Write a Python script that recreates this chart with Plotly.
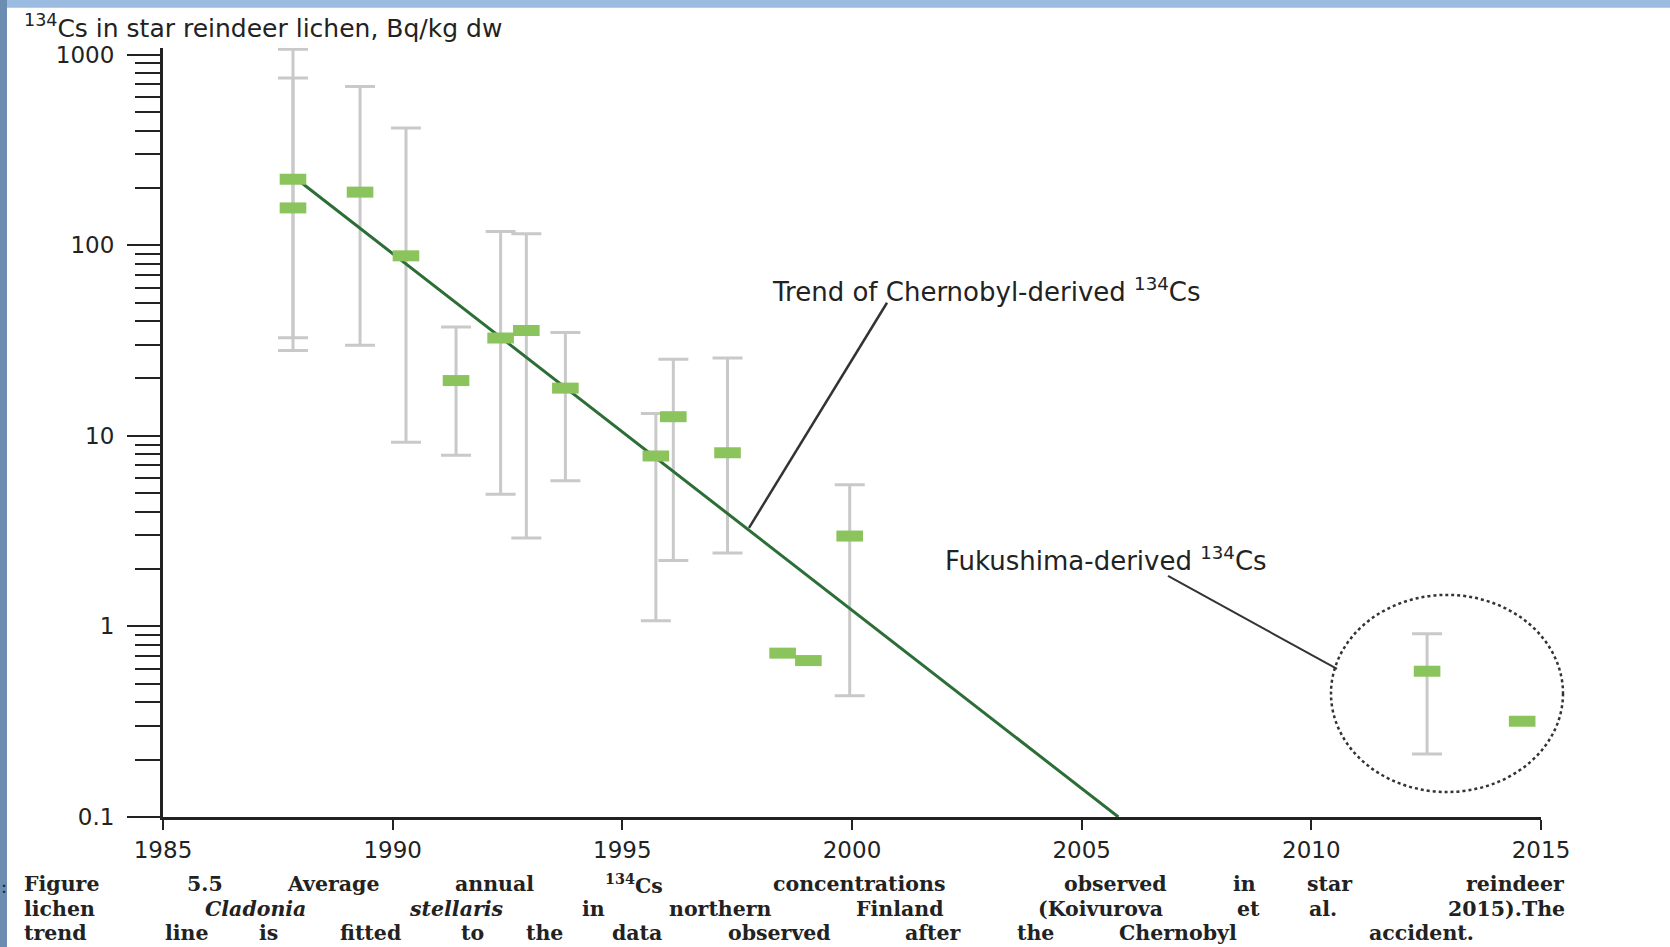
import plotly.graph_objects as go

# ---------------- data ----------------
years = [1987.83, 1987.83, 1989.29, 1990.29, 1991.38, 1992.35, 1992.91, 1993.76,
         1995.73, 1996.11, 1997.29, 1998.49, 1999.05, 1999.95, 2012.52, 2014.59]
values = [222, 157, 190, 88, 19.5, 32.6, 35.7, 17.8,
          7.84, 12.6, 8.15, 0.724, 0.662, 2.98, 0.582, 0.318]
upper = [1067, 754, 680, 412, 37.2, 118, 115, 34.8,
         13.1, 25.2, 25.6, None, None, 5.53, 0.914, None]
lower = [28, 32.7, 29.9, 9.25, 7.9, 4.93, 2.91, 5.82,
         1.07, 2.22, 2.43, None, None, 0.433, 0.214, None]

trend_years = [1988.0, 2005.8]
trend_values = [214, 0.1]

x_ticks = [1985, 1990, 1995, 2000, 2005, 2010, 2015]
y_ticks = [0.1, 1, 10, 100, 1000]
y_ticktext = ["0.1", "1", "10", "100", "1000"]

y_title = "<sup>134</sup>Cs in star reindeer lichen, Bq/kg dw"
trend_label = "Trend of Chernobyl-derived <sup>134</sup>Cs"
fuku_label = "Fukushima-derived <sup>134</sup>Cs"
caption_lines = [
    [("Figure", 0), ("5.5", 0), ("Average", 0), ("annual", 0), ("<sup>134</sup>Cs", 0),
     ("concentrations", 0), ("observed", 0), ("in", 0), ("star", 0), ("reindeer", 0)],
    [("lichen", 0), ("Cladonia", 1), ("stellaris", 1), ("in", 0), ("northern", 0),
     ("Finland", 0), ("(Koivurova", 0), ("et", 0), ("al.", 0), ("2015).The", 0)],
    [("trend", 0), ("line", 0), ("is", 0), ("fitted", 0), ("to", 0), ("the", 0),
     ("data", 0), ("observed", 0), ("after", 0), ("the", 0), ("Chernobyl", 0), ("accident.", 0)],
]

# ---------------- layout geometry (pixels) ----------------
W, H = 1670, 947
Y_TOP_LOG = 3.035
L, R, B = 163, 1541, 817
DECADE_PX = (817 - 55) / 4.0
T = 55 - (Y_TOP_LOG - 3) * DECADE_PX


def px(x):
    return (x - L) / (R - L)


def py(y):
    return (B - y) / (B - T)


err_plus = [(u - v) if u is not None else 0 for u, v in zip(upper, values)]
err_minus = [(v - lo) if lo is not None else 0 for lo, v in zip(lower, values)]
has_err = [u is not None for u in upper]

fig = go.Figure()

# error bars (only for points that have them)
ex = [x for x, h in zip(years, has_err) if h]
ev = [v for v, h in zip(values, has_err) if h]
ep = [p for p, h in zip(err_plus, has_err) if h]
em = [m for m, h in zip(err_minus, has_err) if h]
fig.add_trace(go.Scatter(
    x=ex, y=ev, mode="markers",
    marker=dict(size=1, color="rgba(0,0,0,0)"),
    error_y=dict(type="data", symmetric=False, array=ep, arrayminus=em,
                 color="#c9c9c9", thickness=3, width=15),
    hoverinfo="skip", showlegend=False,
))

# trend line
fig.add_trace(go.Scatter(
    x=trend_years, y=trend_values, mode="lines",
    line=dict(color="#2b6e36", width=3), showlegend=False,
))

# green bar markers
fig.add_trace(go.Scatter(
    x=years, y=values, mode="markers", cliponaxis=False,
    marker=dict(symbol="line-ew", size=19, color="#8bc35c",
                line=dict(color="#8bc35c", width=11)),
    showlegend=False,
))

shapes = []
# slide frame bands
shapes.append(dict(type="rect", xref="paper", yref="paper",
                   x0=px(0), x1=px(W), y0=py(0), y1=py(8),
                   fillcolor="#9bbbe0", line=dict(width=0)))
shapes.append(dict(type="rect", xref="paper", yref="paper",
                   x0=px(0), x1=px(7), y0=py(0), y1=py(H),
                   fillcolor="#6b8db1", line=dict(width=0)))
# ellipse around Fukushima data
shapes.append(dict(type="circle", xref="paper", yref="paper",
                   x0=px(1331), x1=px(1563), y0=py(792), y1=py(595),
                   line=dict(color="#333333", width=2.5, dash="dot")))
# leader lines
shapes.append(dict(type="line", xref="paper", yref="paper",
                   x0=px(887), y0=py(303), x1=px(749), y1=py(528),
                   line=dict(color="#333333", width=2.5)))
shapes.append(dict(type="line", xref="paper", yref="paper",
                   x0=px(1168), y0=py(576), x1=px(1337), y1=py(669),
                   line=dict(color="#333333", width=2)))

annotations = []
sans = "DejaVu Sans"
annotations.append(dict(text=y_title, xref="paper", yref="paper", x=px(23), y=py(27),
                        xanchor="left", yanchor="middle", showarrow=False, borderpad=0,
                        font=dict(family=sans, size=25, color="#222")))
annotations.append(dict(text=trend_label, xref="paper", yref="paper", x=px(770), y=py(290),
                        xanchor="left", yanchor="middle", showarrow=False,
                        font=dict(family=sans, size=26, color="#222")))
annotations.append(dict(text=fuku_label, xref="paper", yref="paper", x=px(943), y=py(559),
                        xanchor="left", yanchor="middle", showarrow=False,
                        font=dict(family=sans, size=26, color="#222")))
annotations.append(dict(text=":", xref="paper", yref="paper", x=px(0), y=py(886),
                        xanchor="left", yanchor="middle", showarrow=False, borderpad=0,
                        font=dict(family="DejaVu Serif", size=18, color="#222")))

# caption, spread across the width like the justified original
cap_y = [884, 908.5, 933]
cap_x0 = 23
cap_x1 = [1566, 1566, 1475]
for line, yy, x1 in zip(caption_lines, cap_y, cap_x1):
    vis = [w.replace("<sup>", "").replace("</sup>", "") for w, _ in line]
    total = sum(len(v) for v in vis) + len(vis) - 1
    scale = (x1 - cap_x0) / total
    pos = 0
    n = len(line)
    for i, ((w, it), v) in enumerate(zip(line, vis)):
        txt = "<i>%s</i>" % w if it else w
        if i == 0:
            xx, anc = cap_x0, "left"
        elif i == n - 1:
            xx, anc = x1, "right"
        else:
            xx, anc = cap_x0 + scale * (pos + len(v) / 2), "center"
        annotations.append(dict(text="<b>%s</b>" % txt, xref="paper", yref="paper",
                                x=px(xx), y=py(yy), xanchor=anc, yanchor="middle",
                                showarrow=False, borderpad=0,
                                font=dict(family="DejaVu Serif", size=20.5, color="#222")))
        pos += len(v) + 1

fig.update_layout(
    width=W, height=H,
    margin=dict(l=L, r=W - R, t=T, b=H - B, pad=0),
    paper_bgcolor="white", plot_bgcolor="white",
    shapes=shapes, annotations=annotations,
    showlegend=False,
)
fig.update_xaxes(range=[1985, 2015], tickvals=x_ticks, ticks="outside", ticklen=10,
                 tickwidth=2, tickcolor="#222", showline=True, linewidth=3, linecolor="#222",
                 showgrid=False, zeroline=False,
                 tickfont=dict(family=sans, size=23, color="#222"))
fig.update_yaxes(type="log", range=[-1, Y_TOP_LOG], tickvals=y_ticks, ticktext=y_ticktext,
                 ticks="outside", ticklen=33, tickwidth=2, tickcolor="#222",
                 showline=True, linewidth=3, linecolor="#222", showgrid=False,
                 zeroline=False, ticklabelstandoff=8,
                 minor=dict(ticks="outside", ticklen=25, tickwidth=2, tickcolor="#222",
                            dtick="D1", showgrid=False),
                 tickfont=dict(family=sans, size=23, color="#222"))

fig.write_html("out.html")
